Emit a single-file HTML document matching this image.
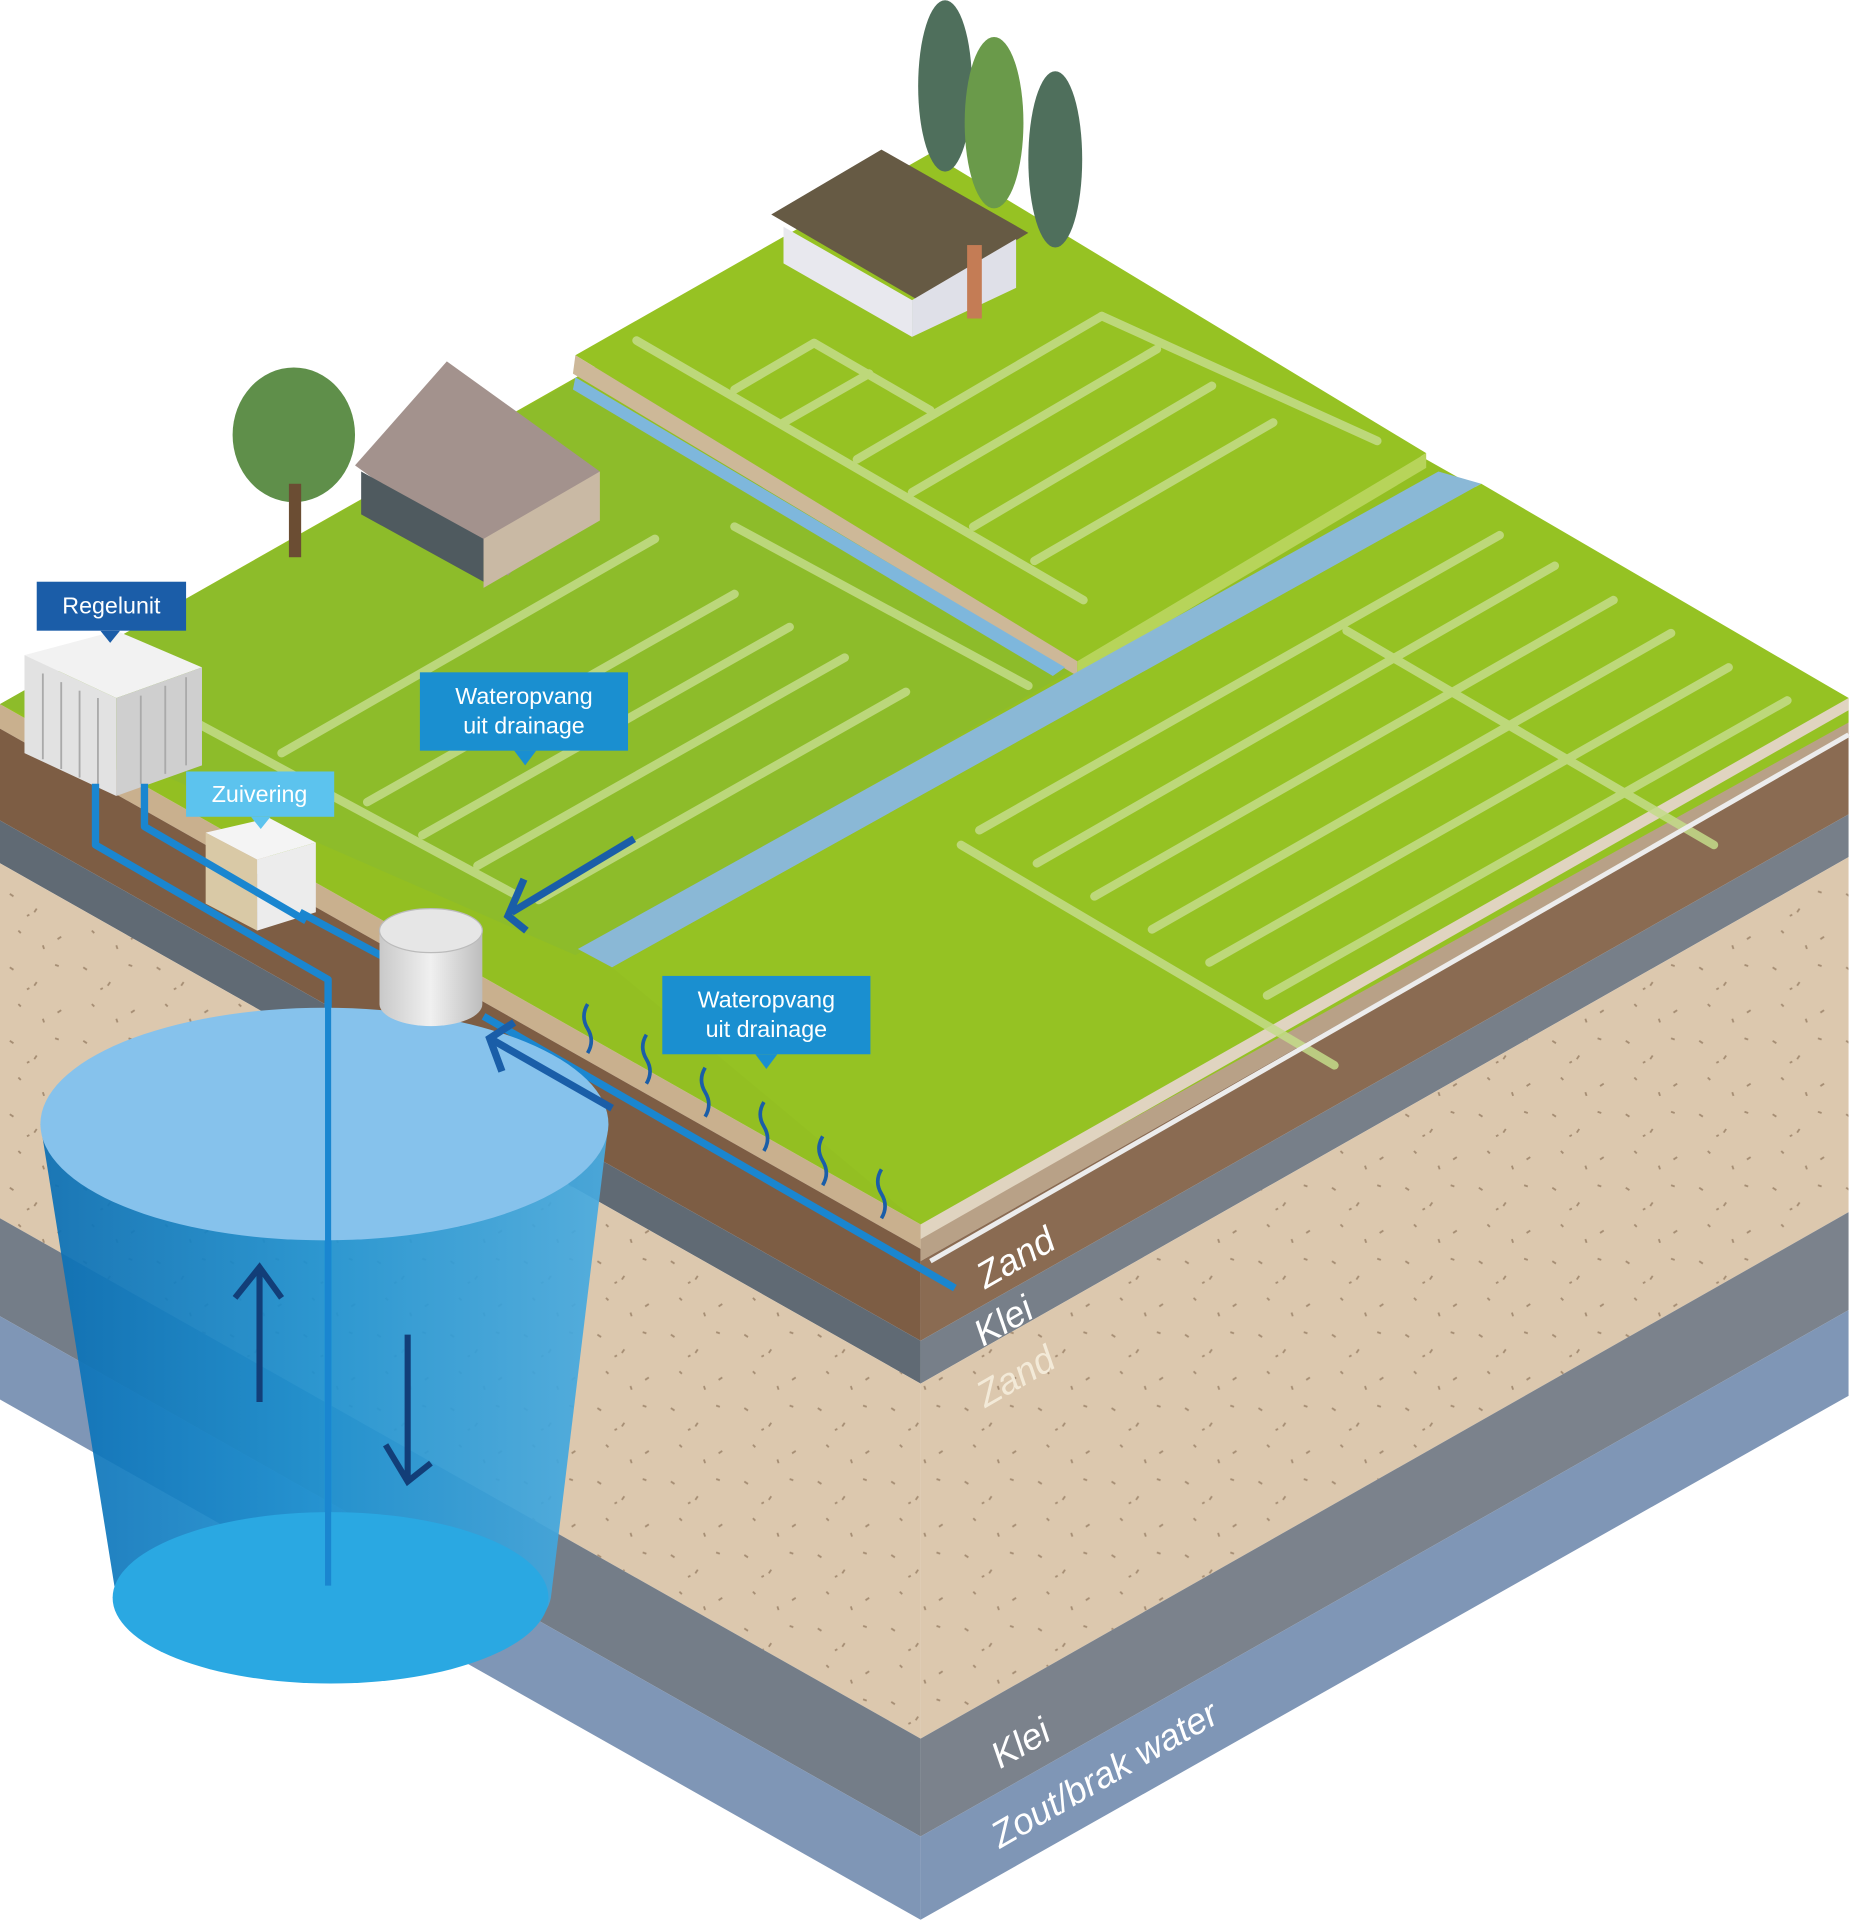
<!DOCTYPE html>
<html><head><meta charset="utf-8"><style>html,body{margin:0;padding:0;background:#fff}svg{display:block}</style></head><body>
<svg width="1851" height="1920" viewBox="0 0 1512 1568" xmlns="http://www.w3.org/2000/svg" font-family="Liberation Sans, sans-serif">
<defs>
<linearGradient id="cyl" x1="0" x2="1" y1="0" y2="0"><stop offset="0" stop-color="#0a6fb5"/><stop offset="0.5" stop-color="#1e93d3"/><stop offset="1" stop-color="#49abe0"/></linearGradient>
<linearGradient id="tank" x1="0" x2="1"><stop offset="0" stop-color="#c9c9c9"/><stop offset="0.5" stop-color="#f0f0f0"/><stop offset="1" stop-color="#bdbdbd"/></linearGradient>
<pattern id="spk" width="60" height="60" patternUnits="userSpaceOnUse"><rect width="60" height="60" fill="#dcc8ae"/><path d="M8 10l3 2M30 22l-2 3M45 8l3 1M15 40l2 2M50 45l-3 2M35 52l1 3M22 28l2-1" stroke="#a58d73" stroke-width="1.5"/></pattern>
</defs>
<g>
<polygon points="0,575 752,1000 752,1020 0,595" fill="#c9b08e"/>
<polygon points="0,595 752,1020 752,1095 0,670" fill="#7d5d44"/>
<polygon points="0,670 752,1095 752,1130 0,705" fill="#606a74"/>
<polygon points="0,705 752,1130 752,1420 0,995" fill="url(#spk)"/>
<polygon points="0,995 752,1420 752,1500 0,1075" fill="#747d88"/>
<polygon points="0,1075 752,1500 752,1568 0,1143" fill="#7f96b6"/>
</g>
<g>
<polygon points="752,1000 1510,570 1510,600 752,1030" fill="#b8a187"/>
<polygon points="752,1030 1510,600 1510,665 752,1095" fill="#8a6b52"/>
<polygon points="752,1095 1510,665 1510,700 752,1130" fill="#777f89"/>
<polygon points="752,1130 1510,700 1510,990 752,1420" fill="url(#spk)"/>
<polygon points="752,1420 1510,990 1510,1070 752,1500" fill="#7b828c"/>
<polygon points="752,1500 1510,1070 1510,1140 752,1568" fill="#7f96b6"/>
</g>
<polygon points="0,575 758,145 1510,570 752,1000" fill="#93bf22"/>
<polygon points="0,575 470,310 880,545 470,780" fill="#8dbc2a"/>
<polygon points="470,290 760,125 1165,370 880,540" fill="#96c223"/>
<polygon points="470,290 880,540 880,552 468,305" fill="#cdb898"/>
<polygon points="880,540 1165,370 1165,382 880,552" fill="#b7d45a"/>
<polygon points="1175,385 1210,395 500,790 472,775" fill="#8ab8d6"/>
<polygon points="470,308 870,545 860,552 468,318" fill="#7eb7dc"/>
<polygon points="1210,395 1510,570 1510,590 760,1005 752,1000 500,790" fill="#95c223"/>
<polygon points="752,1000 1510,570 1510,580 752,1012" fill="#e0d4c0"/>
<g stroke="#c4dc8a" stroke-width="7" stroke-linecap="round" opacity="0.85">
<line x1="520" y1="278" x2="885" y2="490"/><line x1="600" y1="318" x2="665" y2="280"/><line x1="640" y1="345" x2="710" y2="305"/><line x1="700" y1="375" x2="900" y2="258"/><line x1="745" y1="402" x2="945" y2="285"/><line x1="795" y1="430" x2="990" y2="315"/><line x1="845" y1="458" x2="1040" y2="345"/><line x1="900" y1="258" x2="1125" y2="360"/><line x1="665" y1="280" x2="760" y2="335"/>
<line x1="160" y1="590" x2="420" y2="730"/><line x1="600" y1="430" x2="840" y2="560"/>
<line x1="230" y1="615" x2="535" y2="440"/>
<line x1="300" y1="655" x2="600" y2="485"/><line x1="345" y1="682" x2="645" y2="512"/><line x1="390" y1="707" x2="690" y2="537"/><line x1="440" y1="735" x2="740" y2="565"/>
<line x1="800" y1="678" x2="1225" y2="437"/><line x1="847" y1="705" x2="1270" y2="462"/><line x1="894" y1="732" x2="1318" y2="490"/><line x1="941" y1="759" x2="1365" y2="517"/><line x1="988" y1="786" x2="1412" y2="545"/><line x1="1035" y1="813" x2="1460" y2="572"/>
<line x1="785" y1="690" x2="1090" y2="870"/><line x1="1100" y1="515" x2="1400" y2="690"/>
</g>
<line x1="760" y1="1030" x2="1510" y2="600" stroke="#ececec" stroke-width="4"/>
<ellipse cx="240" cy="355" rx="50" ry="55" fill="#5f8f4a"/><rect x="236" y="395" width="10" height="60" fill="#6b4d33"/>
<ellipse cx="772" cy="70" rx="22" ry="70" fill="#4f6f5c"/><ellipse cx="812" cy="100" rx="24" ry="70" fill="#6a9a4a"/><ellipse cx="862" cy="130" rx="22" ry="72" fill="#4f6f5c"/>
<polygon points="290,380 365,295 490,385 415,470" fill="#a3928d"/>
<polygon points="295,385 395,440 395,475 295,420" fill="#4f5a5f"/>
<polygon points="395,440 490,385 490,425 395,480" fill="#c9b9a4"/>
<polygon points="630,175 720,122 840,190 750,245" fill="#665a44"/>
<polygon points="640,185 745,245 745,275 640,215" fill="#e8e8ee"/><polygon points="745,245 830,195 830,235 745,275" fill="#dfe0e8"/>
<rect x="790" y="200" width="12" height="60" fill="#c47c55"/>
<polygon points="20,535 95,515 165,545 95,570" fill="#f2f2f2"/>
<polygon points="20,535 95,570 95,650 20,615" fill="#e2e2e2"/><polygon points="95,570 165,545 165,625 95,650" fill="#cfcfcf"/>
<g stroke="#aaa" stroke-width="1.5"><line x1="35" y1="550" x2="35" y2="620"/><line x1="50" y1="557" x2="50" y2="628"/><line x1="65" y1="564" x2="65" y2="635"/><line x1="80" y1="570" x2="80" y2="642"/><line x1="115" y1="568" x2="115" y2="640"/><line x1="135" y1="560" x2="135" y2="632"/><line x1="152" y1="553" x2="152" y2="625"/></g>
<polygon points="168,680 220,668 258,688 210,702" fill="#f4f4f4"/>
<polygon points="168,680 210,702 210,760 168,738" fill="#d9c9a6"/><polygon points="210,702 258,688 258,745 210,760" fill="#ececec"/>
<g fill="none" stroke="#1a86d0" stroke-width="6" stroke-linejoin="round">
<polyline points="78,640 78,690 268,800 268,1295"/><polyline points="118,640 118,675 250,752"/>
<polyline points="245,745 320,785"/><polyline points="395,830 780,1052"/>
</g>
<path d="M33,918 L95,1305 A178,70 0 0 0 450,1305 L497,918 Z" fill="url(#cyl)" opacity="0.92"/>
<ellipse cx="270" cy="1305" rx="178" ry="70" fill="#2aa8e2"/>
<ellipse cx="265" cy="918" rx="232" ry="95" fill="#86c2ec"/>
<line x1="268" y1="800" x2="268" y2="1295" stroke="#1a86d0" stroke-width="5"/>
<g stroke="#123e78" stroke-width="5" fill="none"><line x1="212" y1="1145" x2="212" y2="1035"/><polyline points="192,1060 212,1035 230,1060"/><line x1="333" y1="1090" x2="333" y2="1210"/><polyline points="315,1180 333,1210 352,1195"/></g>
<path d="M310,760 L310,820 A42,18 0 0 0 394,820 L394,760 Z" fill="url(#tank)"/>
<ellipse cx="352" cy="760" rx="42" ry="18" fill="#e6e6e6" stroke="#bbb"/>
<g stroke="#1a5ea8" stroke-width="6" fill="none"><line x1="518" y1="685" x2="418" y2="745"/><polyline points="428,718 415,748 430,760"/><line x1="500" y1="905" x2="400" y2="848"/><polyline points="410,875 400,848 420,835"/></g>
<g stroke="#1a5ea8" stroke-width="3" fill="none">
<path d="M480,820 q-6,10 0,20 q6,10 0,20"/><path d="M528,845 q-6,10 0,20 q6,10 0,20"/><path d="M576,872 q-6,10 0,20 q6,10 0,20"/><path d="M624,900 q-6,10 0,20 q6,10 0,20"/><path d="M672,928 q-6,10 0,20 q6,10 0,20"/><path d="M720,955 q-6,10 0,20 q6,10 0,20"/>
</g>
<rect x="30" y="475" width="122" height="40" fill="#1b5da8"/><polygon points="82,515 98,515 90,525" fill="#1b5da8"/>
<text x="91" y="501" fill="#fff" font-size="19" text-anchor="middle">Regelunit</text>
<rect x="152" y="630" width="121" height="37" fill="#5cc3ee"/><polygon points="205,667 221,667 213,677" fill="#5cc3ee"/>
<text x="212" y="655" fill="#fff" font-size="19" text-anchor="middle">Zuivering</text>
<rect x="343" y="549" width="170" height="64" fill="#1a8fd0"/><polygon points="420,613 438,613 429,625" fill="#1a8fd0"/>
<text x="428" y="575" fill="#fff" font-size="19" text-anchor="middle">Wateropvang</text><text x="428" y="599" fill="#fff" font-size="19" text-anchor="middle">uit drainage</text>
<rect x="541" y="797" width="170" height="64" fill="#1a8fd0"/><polygon points="617,861 635,861 626,873" fill="#1a8fd0"/>
<text x="626" y="823" fill="#fff" font-size="19" text-anchor="middle">Wateropvang</text><text x="626" y="847" fill="#fff" font-size="19" text-anchor="middle">uit drainage</text>
<g fill="#fff" font-size="30" font-style="italic">
<text transform="translate(805,1053) rotate(-30)">Zand</text>
<text transform="translate(803,1100) rotate(-30)">Klei</text>
<text transform="translate(805,1150) rotate(-30)" fill="#f3ead8">Zand</text>
<text transform="translate(817,1445) rotate(-30)">Klei</text>
<text transform="translate(817,1510) rotate(-30)">Zout/brak water</text>
</g>
</svg>
</body></html>
